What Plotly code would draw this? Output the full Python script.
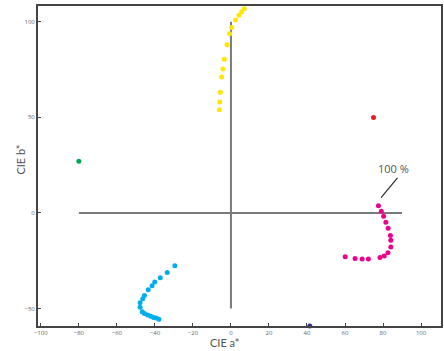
import plotly.graph_objects as go

# Data (CIE a*, b*)
yellow_a = [8.4, 7.0, 5.6, 4.2, 2.4, 0.4, -0.7, -2.1, -3.5, -4.2, -4.9, -5.6, -5.9, -6.1]
yellow_b = [108.5, 106.8, 105.2, 103.4, 101.0, 97.0, 93.8, 88.0, 80.4, 75.3, 71.1, 63.1, 58.1, 54.0]

cyan_a = [-29.5, -33.5, -37.2, -40.1, -41.5, -43.5, -45.5, -46.4, -47.8, -47.8, -46.7, -45.5, -43.8, -42.2, -40.7, -39.4, -37.9]
cyan_b = [-27.7, -31.2, -33.9, -36.2, -38.1, -40.2, -43.3, -44.9, -47.0, -49.4, -51.7, -52.6, -53.4, -54.1, -54.8, -55.0, -55.7]

magenta_a = [77.6, 79.1, 80.3, 81.5, 82.7, 83.9, 84.1, 84.1, 82.6, 80.6, 78.4, 72.3, 69.0, 65.3, 60.1]
magenta_b = [3.7, 0.9, -1.7, -4.9, -8.0, -11.8, -14.3, -17.8, -20.9, -22.5, -23.4, -24.1, -24.1, -23.9, -22.9]

green_a, green_b = [-80], [27]
red_a, red_b = [75], [50]
navy_a, navy_b = [41.5], [-59.2]

hline_a, hline_b = [-80, 90], [0, 0]
vline_a, vline_b = [0, 0], [-50, 100]

x_ticks = [-100, -80, -60, -40, -20, 0, 20, 40, 60, 80, 100]
y_ticks = [-50, 0, 50, 100]

x_title = "CIE a*"
y_title = "CIE b*"
label_text = "100 %"
label_pos = (85.3, 23.4)
arrow_a = [87.6, 79.0]
arrow_b = [18.3, 8.0]
arrow_head = (77.5, 6.0)

fig = go.Figure()

for xa, yb in [(hline_a, hline_b), (vline_a, vline_b)]:
    fig.add_trace(go.Scatter(x=xa, y=yb, mode="lines",
                             line=dict(color="#7a7a7a", width=2),
                             hoverinfo="skip", showlegend=False))

fig.add_trace(go.Scatter(x=arrow_a, y=arrow_b, mode="lines",
                         line=dict(color="#222222", width=1.1),
                         hoverinfo="skip", showlegend=False))

def pts(xa, yb, color):
    fig.add_trace(go.Scatter(x=xa, y=yb, mode="markers",
                             marker=dict(color=color, size=5, line=dict(width=0)),
                             cliponaxis=False, showlegend=False))

pts(yellow_a, yellow_b, "#FFE600")
pts(cyan_a, cyan_b, "#00AEEF")
pts(magenta_a, magenta_b, "#EC008C")
pts(green_a, green_b, "#00A651")
pts(red_a, red_b, "#ED1C24")
pts(navy_a, navy_b, "#2E3192")

fig.add_annotation(x=arrow_head[0], y=arrow_head[1], ax=arrow_a[1], ay=arrow_b[1],
                   xref="x", yref="y", axref="x", ayref="y", text="",
                   showarrow=True, arrowhead=2, arrowsize=1.3, arrowwidth=2, arrowcolor="#B563A8")
fig.add_annotation(x=label_pos[0], y=label_pos[1], xref="x", yref="y", text=label_text,
                   showarrow=False, font=dict(family="Open Sans", size=11, color="#555555"))

# axis titles placed as annotations
fig.add_annotation(x=0.465, y=0, xref="paper", yref="paper", yshift=-16, text=x_title,
                   showarrow=False, xanchor="center", yanchor="middle",
                   font=dict(family="Lato", size=11, color="#555555"))
fig.add_annotation(x=0, y=0.52, xref="paper", yref="paper", xshift=-17, text=y_title,
                   showarrow=False, textangle=-90, xanchor="center", yanchor="middle",
                   font=dict(family="Lato", size=11, color="#555555"))

axis_common = dict(showgrid=False, zeroline=False, showline=True, linecolor="#444444",
                   linewidth=2, mirror=True, ticks="inside", ticklen=3, tickcolor="#444444",
                   tickfont=dict(family="Open Sans", size=6, color="#666666"))

fig.update_xaxes(range=[-101.5, 110.5], tickvals=x_ticks, **axis_common)
fig.update_yaxes(range=[-59.2, 108.3], tickvals=y_ticks, **axis_common)

fig.update_layout(width=444, height=351, margin=dict(l=38, r=1, t=6, b=25),
                  plot_bgcolor="white", paper_bgcolor="white", showlegend=False)

fig.write_html("out.html")
